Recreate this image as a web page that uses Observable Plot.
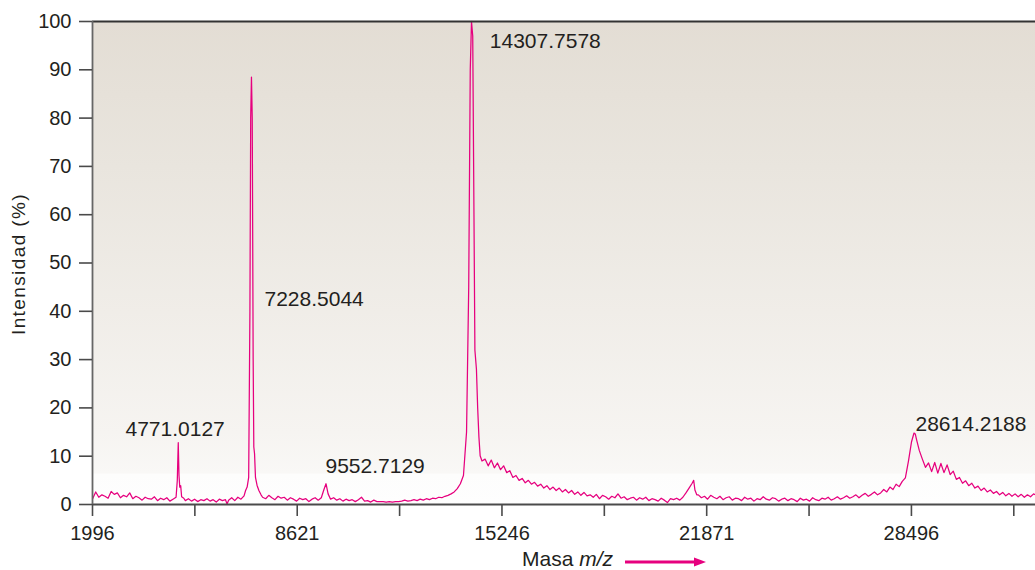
<!DOCTYPE html>
<html>
<head>
<meta charset="utf-8">
<script src="https://cdn.jsdelivr.net/npm/d3@7"></script>
<script src="https://cdn.jsdelivr.net/npm/@observablehq/plot@0.6"></script>
<style>
  html, body { margin: 0; padding: 0; background: #ffffff; }
  #chart { width: 1035px; height: 570px; }
</style>
</head>
<body>
<div id="chart"></div>
<script>
// ---- Data (mass m/z, relative intensity %) ----
const mass = [
  2000,2100,2200,2300,2400,2500,2600,2700,2800,2900,
  3000,3100,3200,3300,3400,3500,3600,3700,3800,3900,
  4000,4100,4200,4300,4400,4500,4600,4700,4740,4771,
  4795,4820,4850,4880,4950,5000,5100,5200,5300,5400,
  5500,5600,5700,5800,5900,6000,6100,6200,6300,6350,
  6400,6500,6600,6700,6800,6900,6950,7000,7050,7090,
  7115,7140,7165,7195,7216,7240,7270,7320,7380,7450,
  7500,7600,7700,7800,7900,8000,8100,8200,8300,8400,
  8500,8600,8700,8800,8900,9000,9100,9200,9300,9400,
  9480,9552,9620,9700,9800,9900,10000,10100,10200,10300,
  10400,10500,10600,10700,10800,10900,11000,11100,11200,11300,
  11400,11500,11600,11700,11800,11900,12000,12100,12200,12300,
  12400,12500,12600,12700,12800,12900,13000,13100,13200,13300,
  13400,13500,13600,13700,13800,13900,14000,14100,14170,14220,
  14260,14300,14340,14370,14420,14460,14500,14540,14600,14700,
  14800,14900,15000,15100,15200,15300,15400,15500,15600,15700,
  15800,15900,16000,16100,16200,16300,16400,16500,16600,16700,
  16800,16900,17000,17100,17200,17300,17400,17500,17600,17700,
  17800,17900,18000,18100,18200,18300,18400,18500,18600,18700,
  18800,18900,19000,19100,19200,19300,19400,19500,19600,19700,
  19800,19900,20000,20100,20200,20300,20400,20500,20600,20700,
  20800,20900,21000,21100,21200,21300,21400,21450,21490,21550,
  21600,21700,21800,21900,22000,22100,22200,22300,22400,22500,
  22600,22700,22800,22900,23000,23100,23200,23300,23400,23500,
  23600,23700,23800,23900,24000,24100,24200,24300,24400,24500,
  24600,24700,24800,24900,25000,25100,25200,25300,25400,25500,
  25600,25700,25800,25900,26000,26100,26200,26300,26400,26500,
  26600,26700,26800,26900,27000,27100,27200,27300,27400,27500,
  27600,27700,27800,27900,28000,28100,28200,28300,28400,28500,
  28580,28620,28660,28750,28850,28950,29050,29150,29250,29350,
  29450,29550,29650,29750,29850,29950,30050,30150,30250,30350,
  30450,30550,30650,30750,30850,30950,31050,31150,31250,31350,
  31450,31550,31650,31750,31850,31950,32050,32150,32250,32350,
  32450,32511
];
const intensity = [
  1.2,2.6,1.5,2.0,1.7,1.3,2.7,2.1,2.4,1.4,
  1.9,1.6,2.4,1.2,1.7,1.4,0.9,1.5,1.2,1.1,
  1.6,0.8,1.3,1.0,1.4,0.7,1.1,1.5,5.0,12.8,
  6.0,3.6,3.9,1.6,1.3,0.8,1.2,0.7,1.1,0.6,
  1.0,0.8,1.2,0.7,1.0,0.5,1.1,0.8,1.0,0.1,
  0.9,1.4,0.8,1.5,1.1,1.8,2.9,3.6,5.6,40,
  80,88.5,80,30,11.9,10.5,5.6,4.0,2.9,2.0,
  1.5,1.2,1.9,1.4,1.0,1.7,1.3,1.5,0.9,1.4,
  1.1,0.7,1.3,1.0,1.2,0.6,1.1,1.4,0.9,1.4,
  3.0,4.3,2.2,1.1,1.4,0.9,1.2,0.7,1.1,0.8,
  1.0,0.6,1.0,1.5,0.7,0.8,0.5,0.9,0.6,0.6,
  0.6,0.5,0.6,0.5,0.6,0.6,0.7,0.9,0.7,0.8,
  1.0,0.8,1.1,0.9,1.2,1.0,1.3,1.2,1.5,1.4,
  1.7,1.9,2.2,2.6,3.3,4.3,6.0,15,45,90,
  100,97,60,32,28,20,14,10.1,9.0,9.4,
  8.0,9.2,7.6,8.6,7.2,8.0,6.6,7.0,5.6,6.0,
  5.0,5.4,4.5,5.0,4.2,4.6,3.8,4.2,3.4,3.9,
  3.1,3.6,2.9,3.4,2.6,3.1,2.4,2.9,2.1,2.6,
  1.9,2.5,1.8,2.0,1.5,2.1,1.2,1.9,1.6,1.1,
  1.7,1.4,2.2,1.3,1.6,1.0,1.3,1.5,0.9,1.4,
  1.1,1.5,0.8,1.2,1.0,0.7,1.3,0.9,0.4,1.2,
  1.0,1.3,0.9,1.5,2.4,3.4,4.4,5.0,3.0,2.0,
  2.0,1.4,1.7,1.1,1.9,1.5,1.2,1.7,1.0,1.4,
  1.6,0.9,1.3,1.2,0.8,1.5,1.1,1.3,0.7,1.2,
  1.0,1.6,1.1,0.9,1.4,1.2,0.7,1.1,1.3,0.8,
  1.2,1.0,0.6,1.3,0.9,1.1,0.7,1.4,1.0,0.8,
  1.3,1.1,1.5,0.9,1.2,1.6,1.1,1.4,1.8,1.3,
  1.6,2.0,1.4,1.9,2.3,1.7,2.1,2.6,2.0,2.4,
  3.1,2.6,3.6,3.1,4.2,3.7,4.8,5.5,9.0,13.0,
  14.8,14.6,13.5,11.2,9.4,7.7,8.6,6.8,8.7,6.5,
  8.5,6.6,8.2,6.2,6.9,5.2,5.6,4.4,4.9,3.9,
  4.4,3.4,3.8,2.9,3.4,2.6,3.0,2.3,2.7,2.0,
  2.5,1.8,2.3,1.7,2.2,1.6,2.1,1.5,2.0,1.6,
  2.2,2.0
];

// ---- Axis ticks ----
const xTicks = [1996, 8621, 15246, 21871, 28496];
const xMinorTicks = [5308.5, 11933.5, 18558.5, 25183.5, 31808.5];
const yTicks = [0, 10, 20, 30, 40, 50, 60, 70, 80, 90, 100];

// ---- Peak labels (text, anchor mass, anchor intensity) ----
const peakLabels = ["4771.0127", "7228.5044", "9552.7129", "14307.7578", "28614.2188"];
const peakLabelMass = [3064, 7562, 9536, 14853, 28628];
const peakLabelIntensity = [15.5, 42.4, 7.9, 95.9, 16.6];

const spectrum = mass.map((m, i) => ({mass: m, intensity: intensity[i]}));
const labels = peakLabels.map((t, i) => ({text: t, mass: peakLabelMass[i], intensity: peakLabelIntensity[i]}));

const axisColor = "#4a4a4a";
const textColor = "#231f20";
const pink = "#e6007e";

const chart = Plot.plot({
  width: 1035,
  height: 570,
  marginLeft: 92,
  marginRight: 0,
  marginTop: 21,
  marginBottom: 66,
  style: {fontFamily: "'Liberation Sans', Arial, Helvetica, sans-serif", color: textColor, background: "#ffffff"},
  x: {domain: [1996, 32511]},
  y: {domain: [0, 100]},
  marks: [
    Plot.frame({fill: "url(#bgGrad)", stroke: "none"}),
    Plot.line(spectrum, {x: "mass", y: "intensity", stroke: pink, strokeWidth: 1.25, strokeLinejoin: "round"}),
    Plot.ruleY([0], {stroke: axisColor, strokeWidth: 1.8}),
    Plot.ruleY([100], {stroke: "#333333", strokeWidth: 2}),
    Plot.ruleX([1996], {stroke: "#666666", strokeWidth: 1.8}),
    Plot.axisX(xTicks, {tickSize: 12, tickPadding: 9, tickFormat: d => String(d), label: null, fontSize: 20, stroke: axisColor, strokeWidth: 1.6, fill: textColor}),
    Plot.axisX(xMinorTicks, {tickSize: 12, tickFormat: () => "", label: null, stroke: axisColor, strokeWidth: 1.6}),
    Plot.axisY(yTicks, {tickSize: 13, tickPadding: 8, tickFormat: d => String(d), label: null, fontSize: 20, stroke: axisColor, strokeWidth: 1.6, fill: textColor}),
    Plot.text(labels, {x: "mass", y: "intensity", text: "text", textAnchor: "start", fontSize: 21, fill: textColor})
  ]
});

const svg = d3.select(chart);
const defs = svg.insert("defs", ":first-child");
const grad = defs.append("linearGradient")
  .attr("id", "bgGrad").attr("x1", 0).attr("y1", 0).attr("x2", 0).attr("y2", 1);
[[0, "#e3ddd4"], [0.3, "#e9e5de"], [0.6, "#f0ede8"], [0.85, "#f6f4f1"], [0.935, "#f9f8f6"], [0.937, "#fdfdfc"], [1, "#fefefe"]]
  .forEach(([o, c]) => grad.append("stop").attr("offset", o).attr("stop-color", c));

// Y axis title
svg.append("text")
  .attr("transform", "translate(18,264) rotate(-90)")
  .attr("text-anchor", "middle")
  .attr("dominant-baseline", "central")
  .attr("font-size", 19)
  .attr("letter-spacing", 1.4)
  .attr("fill", textColor)
  .text("Intensidad (%)");

// X axis title with arrow
const xt = svg.append("text")
  .attr("x", 522).attr("y", 566)
  .attr("text-anchor", "start")
  .attr("font-size", 21)
  .attr("fill", textColor);
xt.append("tspan").text("Masa ");
xt.append("tspan").attr("font-style", "italic").text("m/z");

svg.append("line")
  .attr("x1", 625).attr("x2", 697).attr("y1", 562).attr("y2", 562)
  .attr("stroke", pink).attr("stroke-width", 3);
svg.append("path")
  .attr("d", "M694,557.5 L706,562 L694,566.5 Z")
  .attr("fill", pink);

document.getElementById("chart").appendChild(chart);
</script>
</body>
</html>
